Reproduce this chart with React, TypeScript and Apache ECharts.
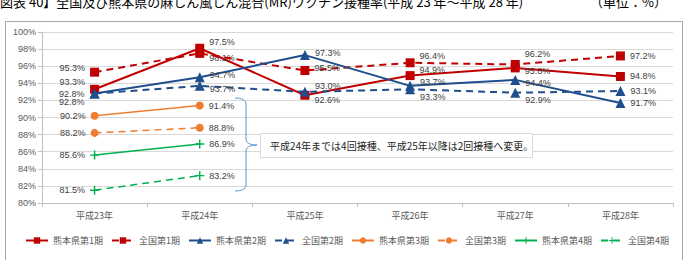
import React, { useEffect, useRef } from "react";
import * as echarts from "echarts";

const categories = ["平成23年", "平成24年", "平成25年", "平成26年", "平成27年", "平成28年"];
const yTicks = [80, 82, 84, 86, 88, 90, 92, 94, 96, 98, 100];
const kumamoto1 = [93.3, 98.1, 92.6, 94.9, 95.8, 94.8];
const national1 = [95.3, 97.5, 95.5, 96.4, 96.2, 97.2];
const kumamoto2 = [92.8, 94.7, 97.3, 93.7, 94.4, 91.7];
const national2 = [92.8, 93.7, 93.0, 93.3, 92.9, 93.1];
const kumamoto3 = [90.2, 91.4];
const national3 = [88.2, 88.8];
const kumamoto4 = [85.6, 86.9];
const national4 = [81.5, 83.2];
const seriesNames = [
  "熊本県第1期", "全国第1期", "熊本県第2期", "全国第2期",
  "熊本県第3期", "全国第3期", "熊本県第4期", "全国第4期",
];
const titleText = "図表 40】全国及び熊本県の麻しん風しん混合(MR)ワクチン接種率(平成 23 年～平成 28 年)";
const unitText = "（単位：%）";
const noteText = "平成24年までは4回接種、平成25年以降は2回接種へ変更。";

// label vertical nudges (style only)
const labelDy: number[][] = [
  [-7, 10, 5, -5.5, 3, 0],
  [-4.5, -11.5, -2, -7, -10, 0],
  [0, -2, -2, -3.5, 3.5, 0],
  [8.5, 3, -6, 8, 7, 0],
  [0, 0], [0, 0], [0, 0], [0, 0],
];

const RED = "#C00000";
const BLUE = "#1F4E8C";
const ORANGE = "#ED7D31";
const GREEN = "#00B050";
const PLUS = "path://M4.2 0 H5.8 V4.2 H10 V5.8 H5.8 V10 H4.2 V5.8 H0 V4.2 H4.2 Z";

export default function App() {
  const ref = useRef<HTMLDivElement>(null);
  useEffect(() => {
    if (!ref.current) return;
    echarts.graphic.registerShape(
      "brace",
      echarts.graphic.extendPath(
        "M235 98 Q246 98 246 104 L246 139 Q246 145 257 145 Q246 145 246 151 L246 185 Q246 191 235 191",
        {}
      )
    );
    const chart = echarts.init(ref.current, null, { renderer: "svg" });
    const datasets = [kumamoto1, national1, kumamoto2, national2, kumamoto3, national3, kumamoto4, national4];
    const colors = [RED, RED, BLUE, BLUE, ORANGE, ORANGE, GREEN, GREEN];
    const symbols = ["rect", "rect", "triangle", "triangle", "circle", "circle", PLUS, PLUS];
    const symbolSizes = [9, 9, 10, 10, 8, 8, 9, 9];
    const widths = [2, 2, 2, 2, 1.5, 1.5, 1.5, 1.5];
    const series = datasets.map((vals, si) => ({
      name: seriesNames[si],
      type: "line",
      data: vals.map((v, i) => ({
        value: v,
        label: {
          position: i === 0 ? "left" : "right",
          offset: [0, labelDy[si][i] || 0],
        },
      })),
      symbol: symbols[si],
      symbolSize: symbolSizes[si],
      showAllSymbol: true,
      color: colors[si],
      itemStyle: { color: colors[si] },
      lineStyle: {
        color: colors[si],
        width: widths[si],
        type: si % 2 === 1 ? [7, 5] : "solid",
      },
      label: {
        show: true,
        distance: 5,
        color: "#404040",
        fontSize: 9,
        fontFamily: "Liberation Sans",
        formatter: (p: any) => Number(p.value).toFixed(1) + "%",
      },
      z: 2 + si,
    }));

    chart.setOption({
      animation: false,
      backgroundColor: "#ffffff",
      grid: { left: 42, right: 26, top: 32, bottom: 57, containLabel: false },
      xAxis: {
        type: "category",
        data: categories,
        boundaryGap: true,
        axisLine: { show: true, lineStyle: { color: "#BFBFBF" } },
        axisTick: { show: true, length: 4, lineStyle: { color: "#BFBFBF" } },
        axisLabel: { color: "#595959", fontSize: 9, fontFamily: "Noto Sans CJK JP", margin: 8 },
      },
      yAxis: {
        type: "value",
        min: yTicks[0],
        max: yTicks[yTicks.length - 1],
        interval: 2,
        axisLine: { show: true, lineStyle: { color: "#BFBFBF" } },
        axisTick: { show: true, length: 4, lineStyle: { color: "#BFBFBF" } },
        splitLine: { show: true, lineStyle: { color: "#D9D9D9" } },
        axisLabel: {
          color: "#595959",
          fontSize: 9,
          fontFamily: "Liberation Sans",
          margin: 6,
          formatter: (v: number) => v + "%",
        },
      },
      legend: {
        data: seriesNames,
        top: 236,
        left: 25,
        padding: 0,
        itemGap: 8,
        itemWidth: 22,
        itemHeight: 8,
        textStyle: { color: "#595959", fontSize: 9, fontFamily: "Noto Sans CJK JP" },
      },
      graphic: [
        {
          type: "rect",
          shape: { x: 5.5, y: 21.5, width: 677, height: 260 },
          style: { fill: "none", stroke: "#A6A6A6", lineWidth: 1 },
          silent: true,
          z: 0,
        },
        {
          type: "text",
          x: 0,
          y: -5,
          style: { text: titleText, fontSize: 13, fill: "#000", fontFamily: "Noto Sans CJK JP" },
        },
        {
          type: "text",
          x: 590,
          y: -5,
          style: { text: unitText, fontSize: 13, fill: "#000", fontFamily: "Noto Sans CJK JP" },
        },
        {
          type: "brace",
          x: 0,
          y: 0,
          style: { fill: "none", stroke: "#5B9BD5", lineWidth: 1 },
          z: 20,
        },
        {
          type: "rect",
          shape: { x: 260.5, y: 133.5, width: 272, height: 24 },
          style: { fill: "#ffffff", stroke: "#D9D9D9", lineWidth: 1 },
          z: 20,
        },
        {
          type: "text",
          x: 270,
          y: 145.5,
          style: {
            text: noteText,
            fontSize: 10,
            fill: "#262626",
            fontFamily: "Noto Sans CJK JP",
            verticalAlign: "middle",
          },
          z: 21,
        },
      ],
      series,
    });
    return () => chart.dispose();
  }, []);
  return (
    <div
      ref={ref}
      style={{ position: "absolute", left: 0, top: 0, width: 699, height: 260 }}
    />
  );
}
